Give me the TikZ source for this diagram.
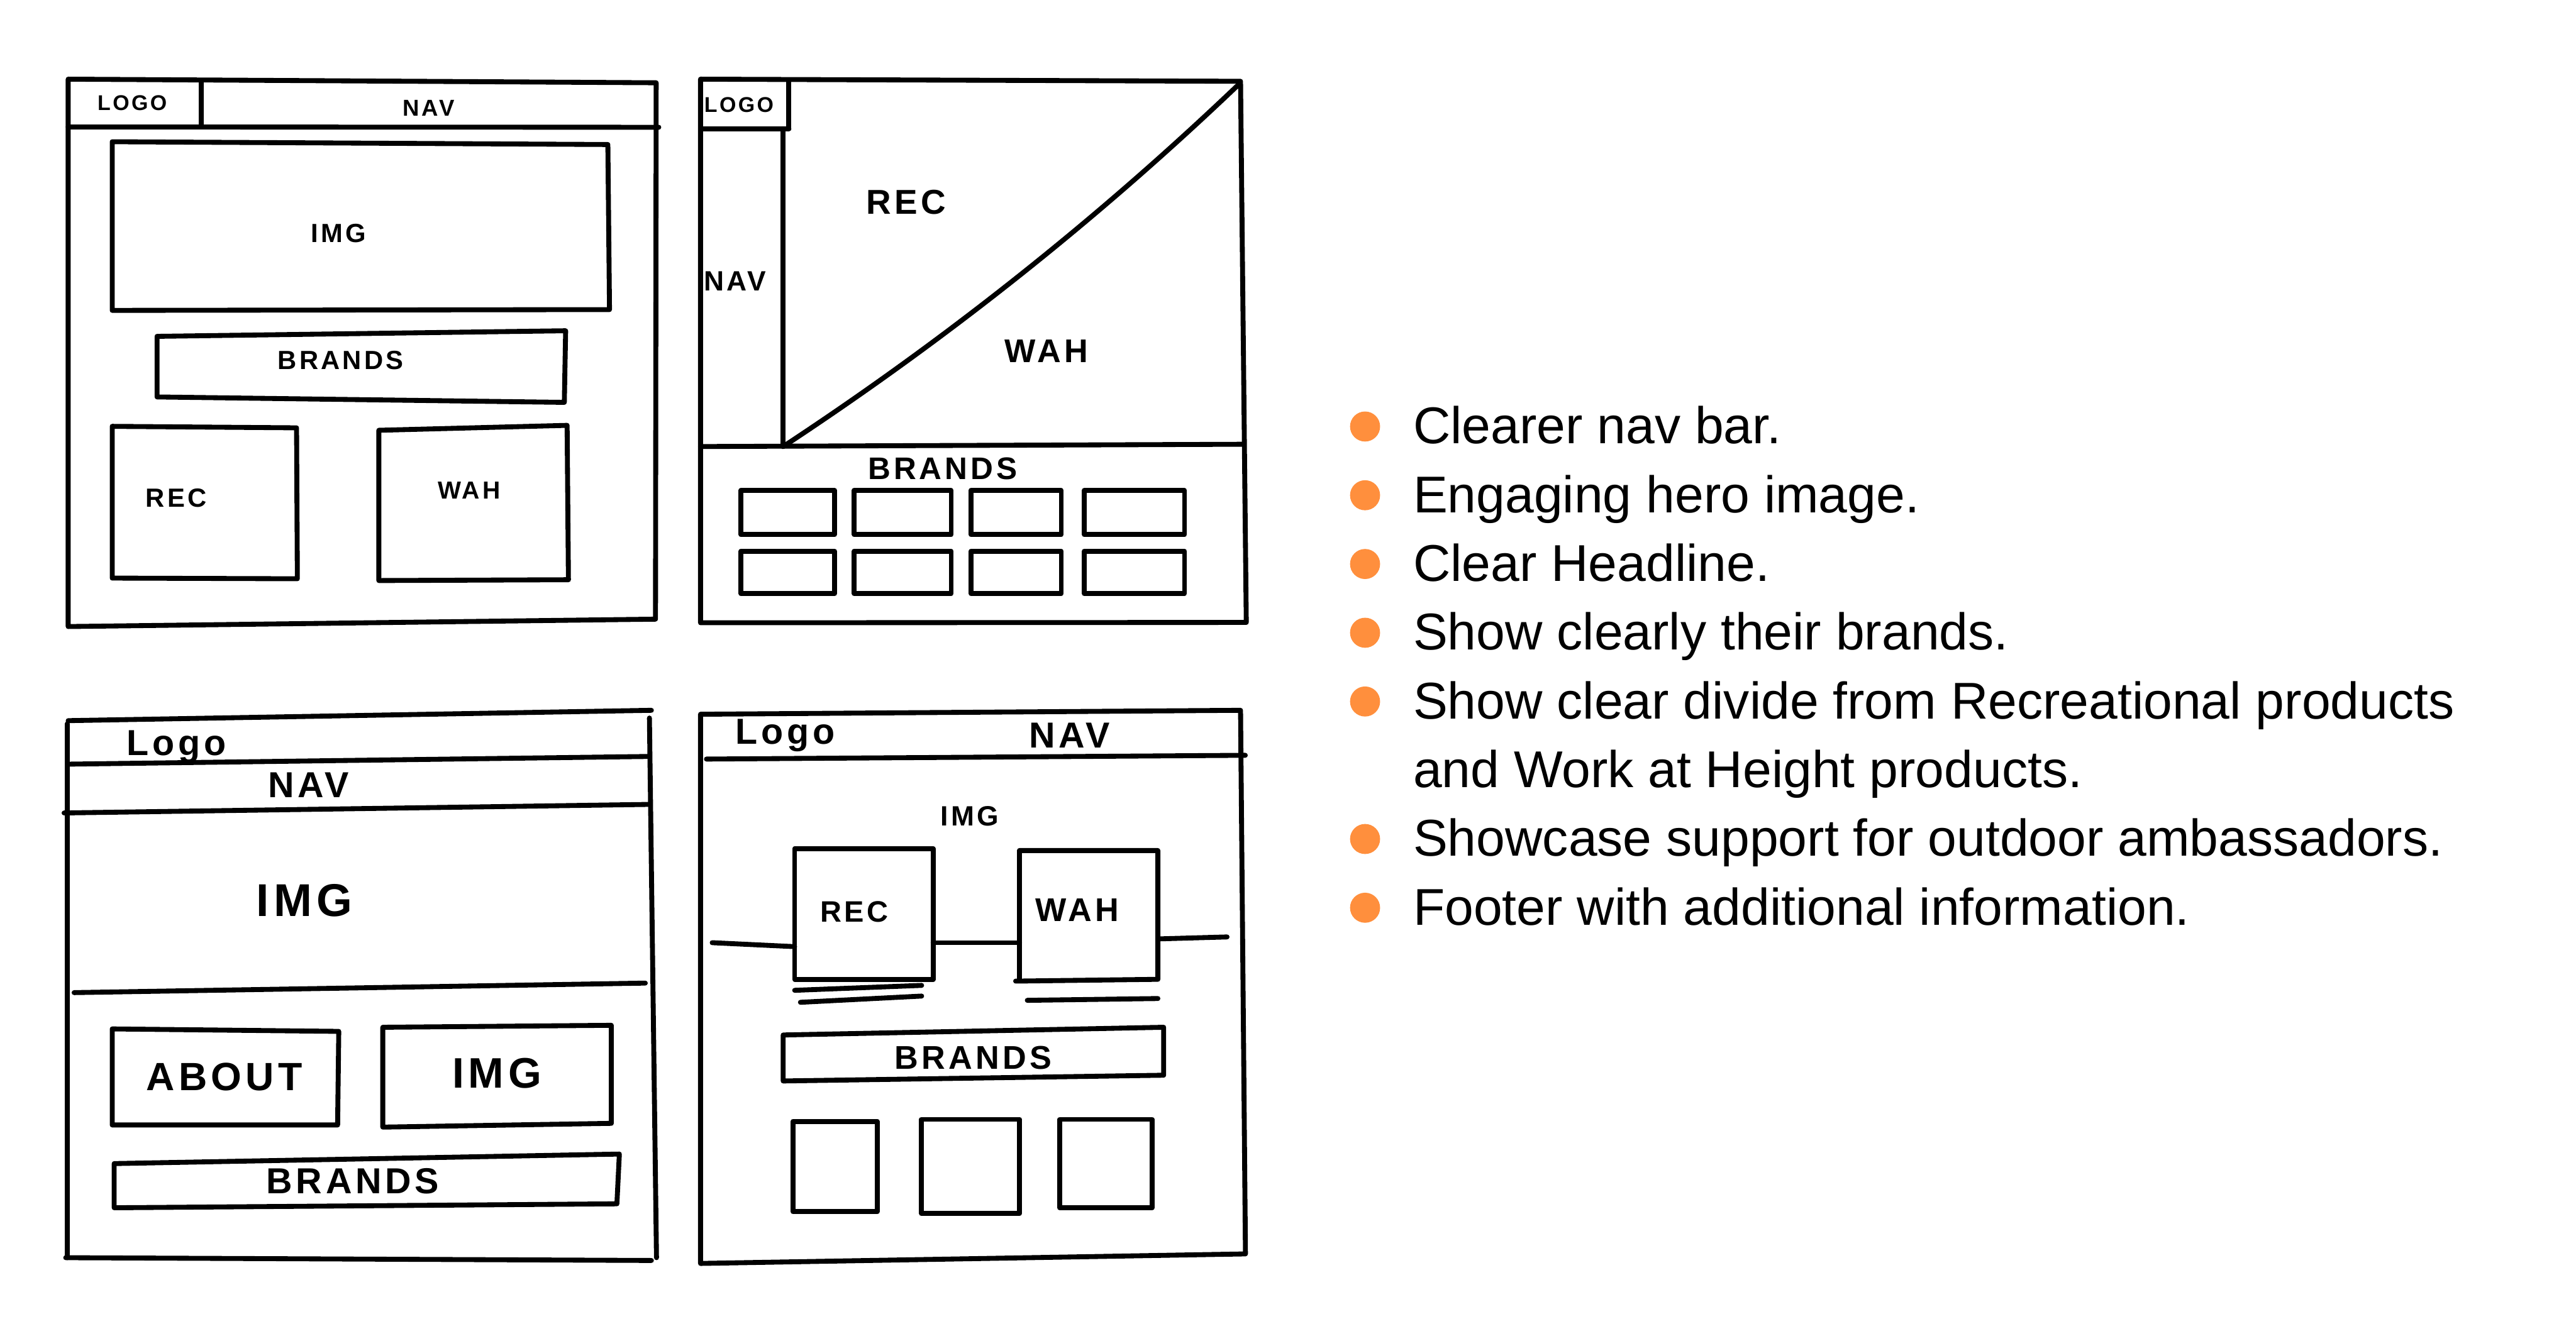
\documentclass[tikz,border=0pt]{standalone}
\usepackage{fontspec}
\setmainfont{Liberation Sans}
\newfontfamily\handfont{Liberation Sans}[LetterSpace=10]
\definecolor{accent}{RGB}{255,143,61}
\tikzset{
  sketch/.style={line width=3pt,line cap=round,line join=round,draw=black},
  handlabel/.style={inner sep=0pt,font=\handfont\bfseries\fontsize{#1}{#1}\selectfont},
  bulletdot/.style={circle,fill=accent,minimum size=18.3pt,inner sep=0pt},
  itemtext/.style={anchor=base west,inner sep=0pt,font=\fontsize{31.5}{37}\selectfont}
}

\begin{document}
\begin{tikzpicture}[x=1pt,y=-1pt]
  \useasboundingbox (0,0) rectangle (1568,816.5);

  % sketch 1: top bar, hero, brands, two tiles
  \draw[sketch] (41.5,48.2) -- (399.4,50.4) -- (399,377) -- (41.5,381.5) -- cycle;
  \draw[sketch] (41.5,77.3) -- (401,77.5);
  \draw[sketch] (122.5,49) -- (122.5,77.3);
  \draw[sketch] (68.3,86.3) -- (370,88) -- (371,188.5) -- (68.3,189) -- cycle;
  \draw[sketch] (95.6,204.8) -- (344.3,201.4) -- (343.5,245) -- (95.6,241.7) -- cycle;
  \draw[sketch] (68.3,259.6) -- (180.5,260.5) -- (181,352.4) -- (68.3,352) -- cycle;
  \draw[sketch] (230.6,262) -- (345.2,259) -- (346,353) -- (230.6,353.5) -- cycle;
  \node[handlabel=13] (s1logo) at (80.5,62.7) {LOGO};
  \node[handlabel=14] (s1nav) at (261,66) {NAV};
  \node[handlabel=16] (s1img) at (206,142) {IMG};
  \node[handlabel=16] (s1brands) at (207.4,219.3) {BRANDS};
  \node[handlabel=16] (s1rec) at (107.3,303.2) {REC};
  \node[handlabel=15] (s1wah) at (285.5,298.7) {WAH};

  % sketch 2: side nav, split hero, brand grid
  \draw[sketch] (426.4,48.2) -- (755.1,49.5) -- (758.6,379) -- (426.4,379.2) -- cycle;
  \draw[sketch] (426.4,78.4) -- (480.2,78.4);
  \draw[sketch] (480.2,49) -- (480.2,78.4);
  \draw[sketch] (476.7,78.4) -- (476.7,271.9);
  \draw[sketch] (426.4,271.9) -- (757,270.5);
  \draw[sketch] (476.7,271.9) .. controls (575.7,206.8) and (668.1,133.4) .. (753.9,51.5);
  \node[handlabel=13] (s2logo) at (449.8,63.8) {LOGO};
  \node[handlabel=17] (s2nav) at (447.5,171.2) {NAV};
  \node[handlabel=21] (s2rec) at (551.6,123.1) {REC};
  \node[handlabel=20] (s2wah) at (637,213.7) {WAH};
  \node[handlabel=19] (s2brands) at (573.8,285.3) {BRANDS};
  \foreach \xa/\xb in {451/508,520/579,591/646,660/721}
    \foreach \ya/\yb in {298.7/325.5,335.6/361.4}
      \draw[sketch] (\xa,\ya) rectangle (\xb,\yb);

  % sketch 3: stacked bars, about + image, brands
  \draw[sketch] (41.5,438.8) -- (396.5,432.5);
  \draw[sketch] (41,440.7) -- (41,765.8);
  \draw[sketch] (395.3,437.2) -- (399.6,765.8);
  \draw[sketch] (40,765.8) -- (396.5,767.5);
  \draw[sketch] (41,465.3) -- (395,460.6);
  \draw[sketch] (39,495) -- (395,489.8);
  \draw[sketch] (45.1,604.4) -- (392.8,598.6);
  \draw[sketch] (68.3,626.5) -- (206.2,628) -- (205.5,685) -- (68.3,685) -- cycle;
  \draw[sketch] (233,625.5) -- (372.1,624.3) -- (372.1,684) -- (233,686.3) -- cycle;
  \draw[sketch] (69.5,708.5) -- (377,702.7) -- (375.5,733) -- (69.5,735.4) -- cycle;
  \node[handlabel=22] (s3logo) at (107.3,454.7) {Logo};
  \node[handlabel=22] (s3nav) at (187.9,478.1) {NAV};
  \node[handlabel=28] (s3img) at (185.4,548.3) {IMG};
  \node[handlabel=24] (s3about) at (136.6,655.9) {ABOUT};
  \node[handlabel=26] (s3img2) at (302.5,653.6) {IMG};
  \node[handlabel=22] (s3brands) at (214.7,719) {BRANDS};

  % sketch 4: hero with two cards, brands, three tiles
  \draw[sketch] (426.4,434.9) -- (755.1,432.5) -- (758.1,763.5) -- (426.4,769.3) -- cycle;
  \draw[sketch] (430,462.2) -- (758,459.9);
  \draw[sketch] (483.7,516.7) -- (568,516.7) -- (568,596.3) -- (483.7,596.3) -- cycle;
  \draw[sketch] (620.6,517.9) -- (704.8,517.9) -- (704.8,596.3) -- (618.2,597.4);
  \draw[sketch] (620.6,517.9) -- (620.6,596.3);
  \draw[sketch] (433.5,574) -- (483.7,576.4);
  \draw[sketch] (568,574) -- (620.6,574);
  \draw[sketch] (704.8,571.7) -- (746.9,570.5);
  \draw[sketch] (483.7,603) -- (561,600);
  \draw[sketch] (487.2,610.3) -- (561,606.5);
  \draw[sketch] (625.3,609.1) -- (704.8,608);
  \draw[sketch] (476.7,630.2) -- (708.3,625.5) -- (708.3,654.7) -- (476.7,658.2) -- cycle;
  \draw[sketch] (482.6,682.8) rectangle (534,737.8);
  \draw[sketch] (560.9,681.6) rectangle (620.6,738.9);
  \draw[sketch] (645.1,681.6) rectangle (701.3,735.4);
  \node[handlabel=22] (s4logo) at (477.9,447.7) {Logo};
  \node[handlabel=22] (s4nav) at (651,447.7) {NAV};
  \node[handlabel=17] (s4img) at (590.2,496.8) {IMG};
  \node[handlabel=18] (s4rec) at (520,555.3) {REC};
  \node[handlabel=20] (s4wah) at (655.7,554.2) {WAH};
  \node[handlabel=20] (s4brands) at (592.5,644.2) {BRANDS};

  % goals list
  \foreach \row/\txt in {0/{Clearer nav bar.},1/{Engaging hero image.},2/{Clear Headline.},
      3/{Show clearly their brands.},4/{Show clear divide from Recreational products},
      6/{Showcase support for outdoor ambassadors.},7/{Footer with additional information.}} {
    \node[bulletdot] (dot\row) at (830.9,259.7+41.86*\row) {};
    \node[itemtext] (item\row) at (860,270.2+41.86*\row) {\txt};
  }
  \node[itemtext] (item5) at (860,270.2+41.86*5) {and Work at Height products.};
\end{tikzpicture}
\end{document}
